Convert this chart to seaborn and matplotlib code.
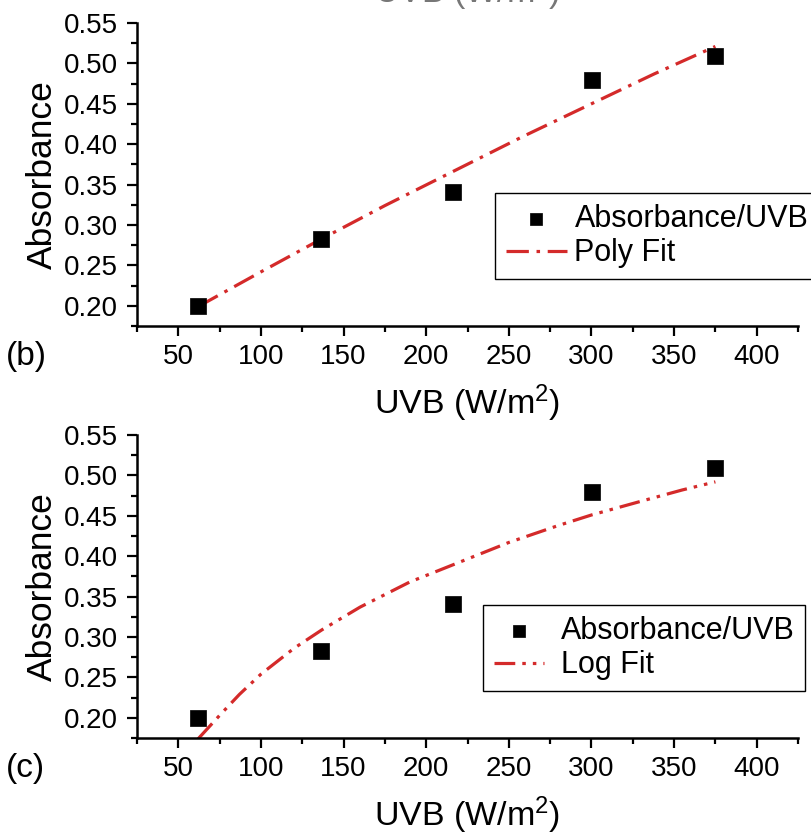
import numpy as np
import pandas as pd
import matplotlib
matplotlib.use("Agg")
import matplotlib.pyplot as plt
import seaborn as sns
from matplotlib.ticker import MultipleLocator, FormatStrFormatter

# ---- data ----
uvb = [62, 136.5, 216.5, 300.5, 375]
absorbance = [0.200, 0.283, 0.341, 0.479, 0.509]

poly_x = [62, 100, 136, 175, 216, 258, 300, 338, 375]
poly_y = [0.199, 0.242, 0.282, 0.324, 0.366, 0.409, 0.450, 0.487, 0.521]

log_x = [62, 75, 87, 100, 120, 137, 160, 190, 217, 250, 280, 300, 330, 355, 375]
log_y = [0.174, 0.203, 0.229, 0.254, 0.286, 0.309, 0.337, 0.368, 0.390, 0.417,
         0.438, 0.451, 0.468, 0.482, 0.492]

x_ticks = [50, 100, 150, 200, 250, 300, 350, 400]
y_ticks = [0.20, 0.25, 0.30, 0.35, 0.40, 0.45, 0.50, 0.55]
x_label = "UVB (W/m$^2$)"
y_label = "Absorbance"
scatter_label = "Absorbance/UVB"

sns.set_theme(style="ticks", rc={
    "axes.edgecolor": "black", "xtick.color": "black", "ytick.color": "black",
    "text.color": "black", "axes.labelcolor": "black",
})
plt.rcParams["font.family"] = ["Liberation Sans", "DejaVu Sans"]
plt.rcParams["mathtext.default"] = "regular"

RED = "#d42a2a"
TICK_FS = 20
XLABEL_FS = 24.5
YLABEL_FS = 25.5
LEG_FS = 22
TAG_FS = 24

fig = plt.figure(figsize=(8.12, 8.36), dpi=100)
ax1 = fig.add_axes([137 / 812, 1 - 326 / 836, 661 / 812, 303 / 836])
ax2 = fig.add_axes([137 / 812, 1 - 738 / 836, 661 / 812, 303 / 836])

panels = [
    (ax1, poly_x, poly_y, "Poly Fit", (0, (7, 2.4, 1.1, 2.4)), "(b)", 356,
     (495, 193), 2.0, 0.25),
    (ax2, log_x, log_y, "Log Fit", (0, (6.5, 2.2, 1.1, 2.2, 1.1, 2.2)), "(c)", 769,
     (483, 605), 1.65, 0.55),
]

for ax, fx, fy, flabel, ls, tag, tag_y, leg_pos, hlen, htp in panels:
    sns.lineplot(x=fx, y=fy, ax=ax, color=RED, linewidth=2.3, linestyle=ls,
                 label=flabel, zorder=2, sort=False)
    sns.scatterplot(x=uvb, y=absorbance, ax=ax, marker="s", s=120, color="black",
                    edgecolor="black", linewidth=0.5, label=scatter_label, zorder=3)
    ax.set_xlim(25, 425)
    ax.set_ylim(0.175, 0.55)
    ax.set_xticks(x_ticks)
    ax.set_yticks(y_ticks)
    ax.xaxis.set_minor_locator(MultipleLocator(25))
    ax.yaxis.set_minor_locator(MultipleLocator(0.025))
    ax.yaxis.set_major_formatter(FormatStrFormatter("%.2f"))
    ax.tick_params(which="major", direction="out", length=7, width=1.6,
                   labelsize=TICK_FS)
    ax.tick_params(axis="y", which="major", pad=7)
    ax.tick_params(axis="x", which="major", pad=6)
    ax.tick_params(which="minor", direction="out", length=4, width=1.6)
    for s in ["top", "right"]:
        ax.spines[s].set_visible(False)
    for s in ["left", "bottom"]:
        ax.spines[s].set_linewidth(1.8)
    ax.set_xlabel(x_label, fontsize=XLABEL_FS, labelpad=9)
    ax.set_ylabel(y_label, fontsize=YLABEL_FS)
    ax.yaxis.set_label_coords(-0.118, 0.5)
    fig.text(6 / 812, 1 - tag_y / 836, tag, fontsize=TAG_FS, va="center", ha="left")

    handles, labels = ax.get_legend_handles_labels()
    order = [labels.index(scatter_label), labels.index(flabel)]
    leg = ax.legend([handles[i] for i in order], [labels[i] for i in order],
                    loc="upper left", bbox_to_anchor=(leg_pos[0] / 812, 1 - leg_pos[1] / 836),
                    bbox_transform=fig.transFigure, borderaxespad=0, fontsize=LEG_FS,
                    frameon=True, fancybox=False, framealpha=1, edgecolor="black",
                    handlelength=hlen, handletextpad=htp, labelspacing=0.15,
                    borderpad=0.35, markerscale=0.8)
    leg.get_frame().set_linewidth(1.0)

# cut-off axis label of the panel above (only its bottom is visible)
fig.text(467 / 812, 1 - 3 / 836, x_label, fontsize=XLABEL_FS, ha="center",
         va="baseline", color="#777777")

fig.savefig("out.png", dpi=100)
